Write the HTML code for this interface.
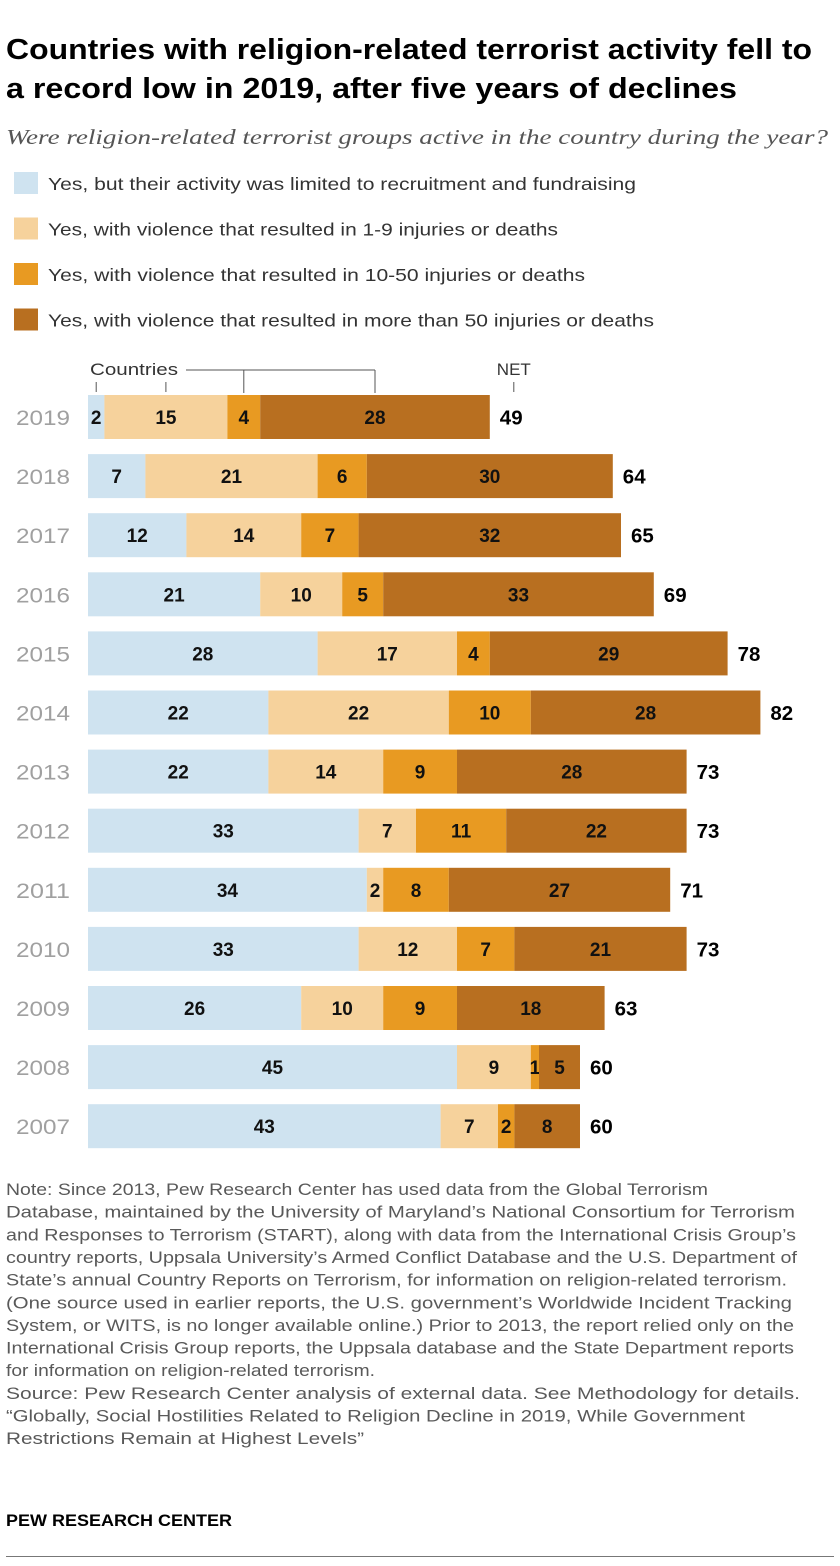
<!DOCTYPE html>
<html><head><meta charset="utf-8">
<style>
body{margin:0;background:#fff;width:840px;height:1566px;overflow:hidden;font-family:"Liberation Sans",Arial,sans-serif;}
svg{position:absolute;left:0;top:0}
</style></head><body>
<svg id="c" width="840" height="1566"></svg>
<script>
const years=["2019","2018","2017","2016","2015","2014","2013","2012","2011","2010","2009","2008","2007"];
const recruit=[2,7,12,21,28,22,22,33,34,33,26,45,43];
const low=[15,21,14,10,17,22,14,7,2,12,10,9,7];
const mid=[4,6,7,5,4,10,9,11,8,7,9,1,2];
const high=[28,30,32,33,29,28,28,22,27,21,18,5,8];
const legendLabels=["Yes, but their activity was limited to recruitment and fundraising","Yes, with violence that resulted in 1-9 injuries or deaths","Yes, with violence that resulted in 10-50 injuries or deaths","Yes, with violence that resulted in more than 50 injuries or deaths"];
const colors=["#cfe3f0","#f6d29c","#e89a22","#b86f20"];
const svg=document.getElementById('c');const NS="http://www.w3.org/2000/svg";
const X0=88,K=8.2,Y0=395,PITCH=59.1,H=44;
const x=v=>X0+v*K, y=i=>Y0+i*PITCH;
function mk(t,a,txt){const e=document.createElementNS(NS,t);for(const k in a)e.setAttribute(k,a[k]);if(txt!=null)e.textContent=txt;svg.appendChild(e);return e;}
function tl(txt,x0,y0,x1,size,attrs){const a=Object.assign({x:x0,y:y0,'font-size':size,textLength:x1-x0,lengthAdjust:'spacingAndGlyphs'},attrs||{});return mk('text',a,txt);}
// title
let e=tl('Countries with religion-related terrorist activity fell to',6,59,812,29,{'font-weight':'bold',fill:'#000'});


e=tl('a record low in 2019, after five years of declines',6,98,737,29,{'font-weight':'bold',fill:'#000'});


e=tl('Were religion-related terrorist groups active in the country during the year?',6,144,828,21,{'font-family':'Liberation Serif, serif','font-style':'italic',fill:'#555'});


const legendEnds=[636,558,585,654];
legendLabels.forEach((l,i)=>{
 const r=mk('rect',{x:14,y:172+i*45.5,width:24,height:22,fill:colors[i]});
 
 
 const t=tl(l,48,190+i*45.5,legendEnds[i],17.5,{fill:'#333'});
 
 
});
const series=[recruit,low,mid,high];
years.forEach((yr,i)=>{
 const yl=tl(yr,16,y(i)+H/2+8,70,21,{fill:'#a0a0a0'});
 
 
 let c=0;
 series.forEach((s,j)=>{
  const v=s[i];
  const r=mk('rect',{x:x(c),y:y(i),width:v*K,height:H,fill:colors[j]});
  
  
  const vl=mk('text',{x:x(c+v/2),y:y(i)+H/2+7,'font-size':19,'font-weight':'bold','text-anchor':'middle',fill:'#111'},v);
  
  
  c+=v;
 });
 const n=mk('text',{x:x(c)+10,y:y(i)+H/2+7.5,'font-size':20.5,'font-weight':'bold',fill:'#000'},c);
 
 
});
// annotation
const a0=recruit[0],a1=low[0],a2=mid[0],a3=high[0],tot=a0+a1+a2+a3;
const g='#555';
const ct=tl('Countries',90,375,178,17,{fill:'#333'});


mk('line',{x1:x(a0/2),y1:382,x2:x(a0/2),y2:392,stroke:g});
mk('line',{x1:x(a0+a1/2),y1:382,x2:x(a0+a1/2),y2:392,stroke:g});
mk('line',{x1:186,y1:370,x2:x(a0+a1+a2+a3/2),y2:370,stroke:g});
mk('line',{x1:x(a0+a1+a2/2),y1:370,x2:x(a0+a1+a2/2),y2:393,stroke:g});
mk('line',{x1:x(a0+a1+a2+a3/2),y1:370,x2:x(a0+a1+a2+a3/2),y2:393,stroke:g});
const nt=mk('text',{x:x(tot)+24,y:375,'font-size':17,fill:'#333','text-anchor':'middle'},'NET');


mk('line',{x1:x(tot)+24,y1:382,x2:x(tot)+24,y2:392,stroke:g});
// notes
const notes=[
["Note: Since 2013, Pew Research Center has used data from the Global Terrorism",708],
["Database, maintained by the University of Maryland’s National Consortium for Terrorism",795],
["and Responses to Terrorism (START), along with data from the International Crisis Group’s",796],
["country reports, Uppsala University’s Armed Conflict Database and the U.S. Department of",797],
["State’s annual Country Reports on Terrorism, for information on religion-related terrorism.",787],
["(One source used in earlier reports, the U.S. government’s Worldwide Incident Tracking",792],
["System, or WITS, is no longer available online.) Prior to 2013, the report relied only on the",794],
["International Crisis Group reports, the Uppsala database and the State Department reports",794],
["for information on religion-related terrorism.",375],
["Source: Pew Research Center analysis of external data. See Methodology for details.",800],
["“Globally, Social Hostilities Related to Religion Decline in 2019, While Government",745],
["Restrictions Remain at Highest Levels”",364]];
notes.forEach((n,i)=>{
 const t=tl(n[0],6,1195+i*22.65,n[1],16.5,{fill:'#595959'});
 
 
});
e=tl('PEW RESEARCH CENTER',6,1526,232,17,{'font-weight':'bold',fill:'#000'});


mk('line',{x1:6,y1:1556.5,x2:834,y2:1556.5,stroke:'#777'});
</script>
</body></html>
